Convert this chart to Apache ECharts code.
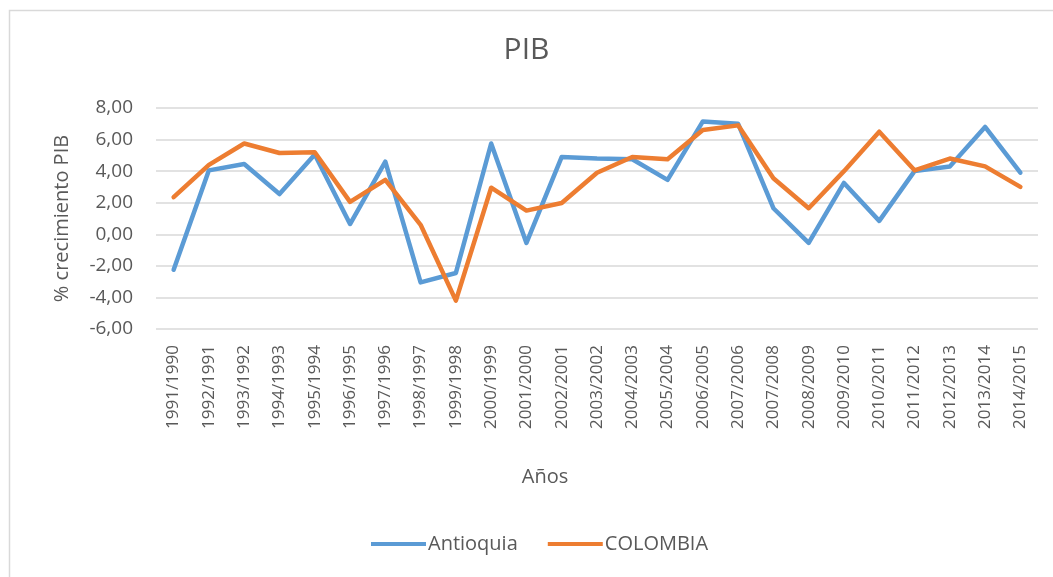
<!DOCTYPE html>
<html>
<head>
<meta charset="UTF-8">
<title>PIB</title>
<script src="https://cdn.jsdelivr.net/npm/echarts@6/dist/echarts.min.js"></script>
<style>
  html, body { margin: 0; padding: 0; background: #fff; }
  #main { width: 1053px; height: 577px; }
</style>
</head>
<body>
<div id="main"></div>
<script>
// periodos (eje x)
var periodos = ['1991/1990', '1992/1991', '1993/1992', '1994/1993', '1995/1994', '1996/1995',
  '1997/1996', '1998/1997', '1999/1998', '2000/1999', '2001/2000', '2002/2001', '2003/2002',
  '2004/2003', '2005/2004', '2006/2005', '2007/2006', '2007/2008', '2008/2009', '2009/2010',
  '2010/2011', '2011/2012', '2012/2013', '2013/2014', '2014/2015'];

// % crecimiento PIB
var antioquia = [-2.25, 4.05, 4.45, 2.55, 5.05, 0.65, 4.6, -3.05, -2.45, 5.75, -0.55, 4.9,
  4.8, 4.75, 3.45, 7.15, 7.0, 1.65, -0.55, 3.25, 0.85, 4.0, 4.3, 6.8, 3.9];
var colombia = [2.35, 4.4, 5.75, 5.15, 5.2, 2.05, 3.45, 0.6, -4.2, 2.95, 1.5, 1.98,
  3.9, 4.9, 4.75, 6.6, 6.9, 3.55, 1.65, 4.0, 6.5, 4.05, 4.8, 4.3, 3.0];

var textColor = '#595959';
var fontFam = '"Open Sans", "Noto Sans", sans-serif';

var myChart = echarts.init(document.getElementById('main'));
var option = {
  backgroundColor: '#fff',
  animation: false,
  textStyle: { fontFamily: fontFam, color: textColor },
  graphic: [{
    type: 'rect',
    shape: { x: 9.5, y: 10.5, width: 1100, height: 700 },
    style: { fill: 'none', stroke: '#d9d9d9', lineWidth: 1.5 },
    silent: true
  }],
  title: {
    text: 'PIB',
    left: 'center',
    top: 30,
    textStyle: { fontFamily: fontFam, fontSize: 30, fontWeight: 'normal', color: textColor }
  },
  legend: {
    bottom: 18,
    left: 366,
    icon: 'rect',
    itemWidth: 55,
    itemHeight: 4,
    itemGap: 30,
    textStyle: { fontFamily: fontFam, fontSize: 20, color: textColor, padding: [0, 0, 0, -3] },
    data: ['Antioquia', 'COLOMBIA']
  },
  grid: { left: 156, right: 15, top: 108, bottom: 248, containLabel: false },
  xAxis: {
    type: 'category',
    data: periodos,
    boundaryGap: true,
    name: 'Años',
    nameLocation: 'middle',
    nameGap: 138,
    nameTextStyle: { fontFamily: fontFam, fontSize: 20, color: textColor, padding: [0, 104, 0, 0] },
    axisLine: { show: false },
    axisTick: { show: false },
    axisLabel: { rotate: 90, interval: 0, margin: 16, fontSize: 17, color: textColor, fontFamily: fontFam }
  },
  yAxis: {
    type: 'value',
    min: -6,
    max: 8,
    interval: 2,
    name: '% crecimiento PIB',
    nameLocation: 'middle',
    nameGap: 84,
    nameTextStyle: { fontFamily: fontFam, fontSize: 20, color: textColor },
    axisLine: { show: false },
    axisTick: { show: false },
    axisLabel: {
      margin: 23, fontSize: 19, color: textColor, fontFamily: fontFam,
      formatter: function (v) { return v.toFixed(2).replace('.', ','); }
    },
    splitLine: { lineStyle: { color: '#d9d9d9', width: 1.5 } }
  },
  series: [
    {
      name: 'Antioquia',
      type: 'line',
      data: antioquia,
      symbol: 'none',
      lineStyle: { color: '#5B9BD5', width: 4.5, cap: 'round', join: 'round' },
      itemStyle: { color: '#5B9BD5' }
    },
    {
      name: 'COLOMBIA',
      type: 'line',
      data: colombia,
      symbol: 'none',
      lineStyle: { color: '#ED7D31', width: 4.5, cap: 'round', join: 'round' },
      itemStyle: { color: '#ED7D31' }
    }
  ]
};
myChart.setOption(option);
</script>
</body>
</html>
